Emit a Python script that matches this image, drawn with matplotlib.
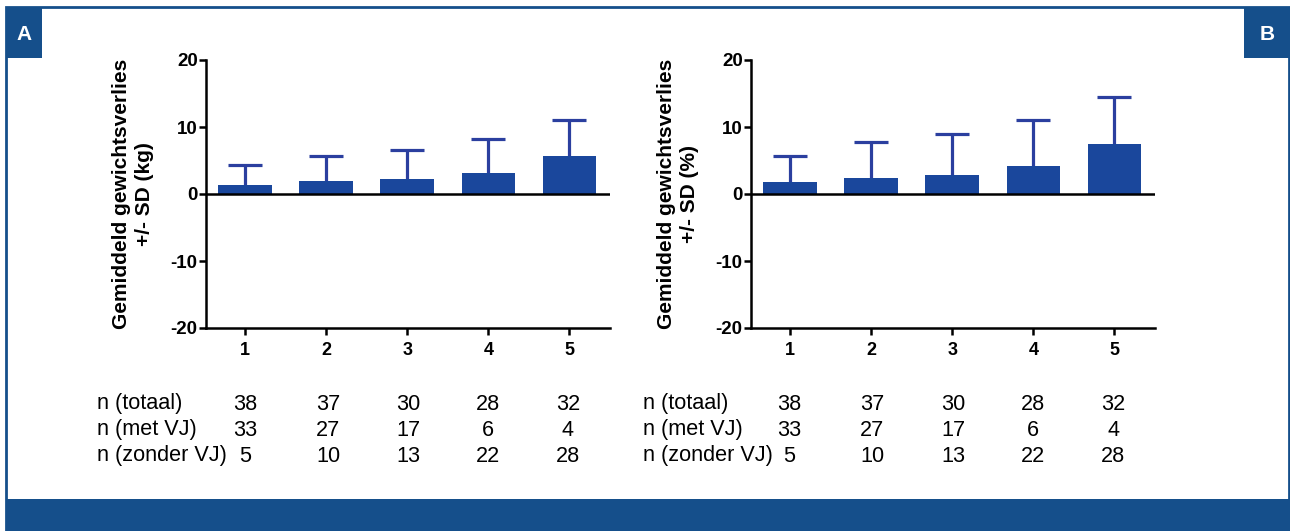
import matplotlib.pyplot as plt
from matplotlib.patches import Rectangle

plt.rcParams['font.family'] = ['Liberation Sans', 'DejaVu Sans']
plt.rcParams['axes.unicode_minus'] = False

groepen = ['1', '2', '3', '4', '5']

# gemiddeld gewichtsverlies (kg) en SD
mean_kg = [1.4, 1.9, 2.3, 3.2, 5.7]
sd_kg = [2.9, 3.7, 4.3, 5.0, 5.4]

# gemiddeld gewichtsverlies (%) en SD
mean_pct = [1.8, 2.4, 2.8, 4.2, 7.4]
sd_pct = [3.9, 5.3, 6.1, 6.8, 7.1]

n_totaal = ['38', '37', '30', '28', '32']
n_met_vj = ['33', '27', '17', '6', '4']
n_zonder_vj = ['5', '10', '13', '22', '28']
rij_labels = ['n (totaal)', 'n (met VJ)', 'n (zonder VJ)']

W, H = 1290, 531
frame_kleur = '#154f8b'
bar_kleur = '#1a479c'
err_kleur = '#2b3f9f'

fig = plt.figure(figsize=(W / 100, H / 100), dpi=100)


def px(x0, y0, x1, y1):
    # pixel box -> figure rect
    return [x0 / W, 1 - y1 / H, (x1 - x0) / W, (y1 - y0) / H]


# kader
fig.add_artist(Rectangle((6 / W, 0), (W - 7) / W, 1 - 7 / H, transform=fig.transFigure,
                         fill=False, edgecolor=frame_kleur, linewidth=2))
fig.add_artist(Rectangle((6 / W, 0), (W - 6) / W, 32 / H, transform=fig.transFigure,
                         facecolor=frame_kleur, edgecolor='none'))
fig.add_artist(Rectangle((6 / W, 1 - 58 / H), 36 / W, 51 / H, transform=fig.transFigure,
                         facecolor=frame_kleur, edgecolor='none'))
fig.add_artist(Rectangle((1244 / W, 1 - 58 / H), 46 / W, 51 / H, transform=fig.transFigure,
                         facecolor=frame_kleur, edgecolor='none'))
fig.text(24 / W, 1 - 34 / H, 'A', color='white', fontsize=15, fontweight='bold',
         ha='center', va='center')
fig.text(1267 / W, 1 - 34 / H, 'B', color='white', fontsize=15, fontweight='bold',
         ha='center', va='center')


def paneel(rect, means, sds, ylabel, tabel_x, kol_x):
    ax = fig.add_axes(rect)
    x = list(range(len(groepen)))
    tops = [m + s for m, s in zip(means, sds)]
    ax.vlines(x, means, tops, color=err_kleur, linewidth=2.3, zorder=1)
    ax.plot(x, tops, linestyle='none', marker='_', markersize=25, mew=2.3,
            color=err_kleur, zorder=1)
    ax.bar(x, means, width=0.66, color=bar_kleur, linewidth=0, zorder=2)
    ax.axhline(0, color='black', linewidth=1.8, zorder=3)
    ax.set_xlim(-0.48, 4.5)
    ax.set_ylim(-20, 20)
    ax.set_yticks([-20, -10, 0, 10, 20])
    ax.set_xticks(x)
    ax.set_xticklabels(groepen, fontsize=13, fontweight='bold')
    ax.tick_params(axis='x', length=5, width=1.8, pad=5)
    ax.tick_params(axis='y', length=5, width=1.8, labelsize=13.5, direction='out', pad=1)
    for lab in ax.get_yticklabels():
        lab.set_fontweight('bold')
    for s in ['top', 'right']:
        ax.spines[s].set_visible(False)
    ax.spines['left'].set_linewidth(1.8)
    ax.spines['bottom'].set_linewidth(1.8)
    ax.set_ylabel(ylabel, fontsize=15, fontweight='bold', labelpad=12, linespacing=1.3)

    rijen = [n_totaal, n_met_vj, n_zonder_vj]
    for i, (lab, rij) in enumerate(zip(rij_labels, rijen)):
        y = 1 - (404 + i * 26) / H
        fig.text(tabel_x / W, y, lab, fontsize=15.6, ha='left', va='center')
        for xc, v in zip(kol_x, rij):
            fig.text(xc / W, y, v, fontsize=15.6, ha='center', va='center')
    return ax


paneel(px(206, 60, 610, 328), mean_kg, sd_kg, 'Gemiddeld gewichtsverlies\n+/- SD (kg)',
       97, [245, 328, 408, 488, 568])
paneel(px(751, 60, 1155, 328), mean_pct, sd_pct, 'Gemiddeld gewichtsverlies\n+/- SD (%)',
       643, [789, 872, 953, 1033, 1113])

fig.savefig('out.png', dpi=100)
